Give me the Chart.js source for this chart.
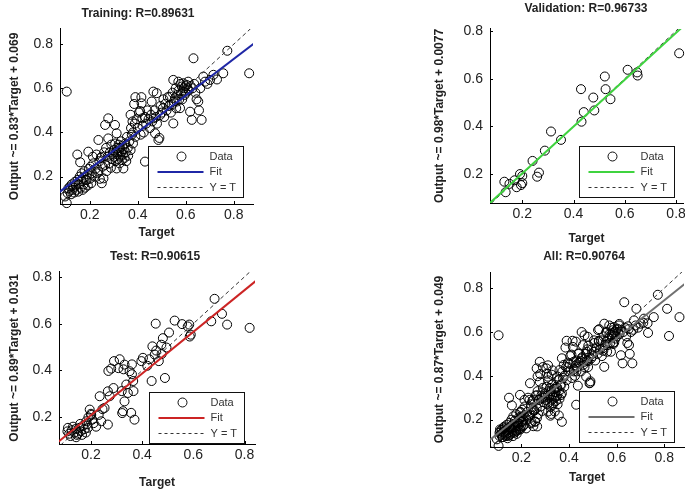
<!DOCTYPE html>
<html>
<head>
<meta charset="utf-8">
<script src="https://cdn.jsdelivr.net/npm/chart.js@4/dist/chart.umd.min.js"></script>
<style>
  html, body { margin: 0; padding: 0; background: #fff; width: 685px; height: 494px; overflow: hidden; }
  .panel { position: absolute; }
</style>
</head>
<body>
<div class="panel" style="left:0;top:0"><canvas id="c0" width="276" height="247"></canvas></div>
<div class="panel" style="left:400px;top:0"><canvas id="c1" width="372" height="247"></canvas></div>
<div class="panel" style="left:0;top:247px"><canvas id="c2" width="310" height="247"></canvas></div>
<div class="panel" style="left:400px;top:247px"><canvas id="c3" width="368" height="247"></canvas></div>
<script>
// ---- data ----
const tickVals = [0.2, 0.4, 0.6, 0.8];
const panelNames = ["Training", "Validation", "Test", "All"];
const rValues = ["0.89631", "0.96733", "0.90615", "0.90764"];
const fitSlope = ["0.83", "0.98", "0.89", "0.87"];
const fitIntercept = ["0.069", "0.0077", "0.031", "0.049"];
const legendLabels = ["Data", "Fit", "Y = T"];

// [target, output]
const trainPts = [
  [0.104,0.08],[0.104,0.585],[0.097,0.11],[0.108,0.125],[0.111,0.147],[0.115,0.135],[0.118,0.155],[0.122,0.12],
  [0.125,0.165],[0.128,0.14],[0.132,0.15],[0.135,0.128],[0.139,0.177],[0.142,0.16],[0.145,0.14],[0.148,0.3],
  [0.15,0.185],[0.152,0.132],[0.155,0.165],[0.158,0.2],[0.16,0.265],[0.162,0.15],[0.165,0.18],[0.166,0.215],
  [0.17,0.14],[0.172,0.195],[0.175,0.165],[0.178,0.225],[0.18,0.15],[0.183,0.185],[0.187,0.184],[0.19,0.21],
  [0.192,0.16],[0.194,0.313],[0.196,0.235],[0.2,0.19],[0.203,0.245],[0.206,0.17],[0.209,0.215],[0.213,0.29],
  [0.215,0.26],[0.22,0.2],[0.224,0.235],[0.228,0.3],[0.232,0.215],[0.236,0.366],[0.236,0.222],[0.24,0.27],
  [0.242,0.19],[0.246,0.285],[0.25,0.17],[0.25,0.29],[0.253,0.245],[0.257,0.192],[0.26,0.31],[0.264,0.253],
  [0.264,0.434],[0.268,0.33],[0.27,0.225],[0.274,0.29],[0.277,0.464],[0.277,0.373],[0.28,0.26],[0.284,0.31],
  [0.288,0.24],[0.29,0.345],[0.293,0.28],[0.297,0.3],[0.3,0.32],[0.302,0.29],[0.305,0.434],[0.306,0.35],
  [0.308,0.27],[0.31,0.31],[0.312,0.396],[0.312,0.237],[0.314,0.33],[0.316,0.3],[0.318,0.28],[0.32,0.345],
  [0.322,0.315],[0.324,0.26],[0.326,0.33],[0.328,0.29],[0.33,0.36],[0.332,0.31],[0.334,0.275],[0.336,0.34],
  [0.338,0.3],[0.34,0.237],[0.342,0.325],[0.345,0.285],[0.348,0.35],[0.35,0.31],[0.352,0.27],[0.355,0.38],
  [0.358,0.33],[0.36,0.295],[0.365,0.36],[0.37,0.32],[0.375,0.39],[0.38,0.35],[0.37,0.48],[0.372,0.42],
  [0.378,0.45],[0.38,0.4],[0.385,0.529],[0.388,0.44],[0.39,0.56],[0.39,0.38],[0.395,0.46],[0.4,0.42],
  [0.405,0.49],[0.41,0.497],[0.412,0.39],[0.415,0.56],[0.416,0.532],[0.419,0.464],[0.42,0.43],[0.425,0.4],
  [0.43,0.268],[0.43,0.47],[0.435,0.44],[0.44,0.5],[0.445,0.46],[0.45,0.42],[0.455,0.48],[0.458,0.54],
  [0.46,0.45],[0.465,0.585],[0.465,0.464],[0.47,0.5],[0.472,0.396],[0.475,0.47],[0.479,0.578],[0.48,0.44],
  [0.486,0.366],[0.49,0.375],[0.493,0.479],[0.495,0.52],[0.5,0.49],[0.505,0.51],[0.507,0.55],[0.51,0.47],
  [0.515,0.53],[0.52,0.5],[0.525,0.56],[0.53,0.52],[0.534,0.562],[0.538,0.49],[0.541,0.525],[0.545,0.58],
  [0.548,0.441],[0.548,0.638],[0.55,0.54],[0.555,0.555],[0.558,0.6],[0.56,0.51],[0.562,0.54],[0.565,0.57],
  [0.569,0.63],[0.57,0.59],[0.573,0.55],[0.576,0.51],[0.578,0.62],[0.58,0.575],[0.583,0.608],[0.585,0.55],
  [0.588,0.59],[0.59,0.623],[0.592,0.6],[0.595,0.57],[0.598,0.61],[0.6,0.58],[0.604,0.615],[0.607,0.6],
  [0.61,0.63],[0.612,0.59],[0.618,0.494],[0.62,0.61],[0.625,0.457],[0.628,0.6],[0.632,0.736],[0.635,0.62],
  [0.64,0.58],[0.645,0.55],[0.652,0.54],[0.655,0.5],[0.666,0.457],[0.66,0.6],[0.673,0.653],[0.68,0.63],
  [0.69,0.62],[0.701,0.638],[0.715,0.661],[0.73,0.64],[0.756,0.668],[0.773,0.77],[0.864,0.668]
];

const valPts = [
  [0.812,0.706],[0.611,0.637],[0.648,0.626],[0.65,0.613],[0.522,0.609],[0.429,0.556],[0.525,0.556],
  [0.477,0.521],[0.544,0.514],[0.44,0.46],[0.481,0.467],[0.431,0.42],[0.312,0.379],[0.351,0.344],
  [0.288,0.299],[0.24,0.256],[0.265,0.207],[0.258,0.19],[0.191,0.201],[0.2,0.193],[0.13,0.169],
  [0.178,0.146],[0.2,0.163],[0.135,0.125],[0.15,0.16],[0.17,0.175],[0.195,0.155]
];

const testPts = [
  [0.683,0.706],[0.712,0.642],[0.732,0.596],[0.67,0.61],[0.82,0.582],[0.584,0.596],[0.578,0.588],
  [0.59,0.553],[0.586,0.545],[0.556,0.598],[0.527,0.613],[0.453,0.6],[0.505,0.562],[0.481,0.538],
  [0.475,0.51],[0.495,0.498],[0.44,0.503],[0.455,0.485],[0.449,0.468],[0.476,0.47],[0.465,0.44],
  [0.428,0.448],[0.42,0.42],[0.397,0.44],[0.403,0.454],[0.489,0.368],[0.437,0.355],[0.312,0.448],
  [0.331,0.425],[0.29,0.44],[0.307,0.41],[0.279,0.408],[0.268,0.398],[0.327,0.405],[0.36,0.426],
  [0.351,0.397],[0.36,0.384],[0.365,0.355],[0.366,0.312],[0.32,0.312],[0.288,0.325],[0.266,0.311],
  [0.273,0.29],[0.234,0.29],[0.338,0.34],[0.344,0.304],[0.331,0.268],[0.325,0.226],[0.322,0.218],
  [0.357,0.219],[0.37,0.19],[0.253,0.24],[0.195,0.233],[0.201,0.21],[0.182,0.183],[0.24,0.183],
  [0.266,0.169],[0.22,0.16],[0.13,0.16],[0.14,0.15],[0.15,0.13],[0.12,0.12],[0.135,0.135],[0.155,0.155],
  [0.16,0.14],[0.17,0.165],[0.145,0.125],[0.125,0.145],[0.165,0.125],[0.175,0.15],[0.185,0.17],
  [0.19,0.2],[0.2,0.215],[0.11,0.155],[0.115,0.13],[0.18,0.135],[0.205,0.19],[0.108,0.14],[0.142,0.115],
  [0.158,0.172],[0.188,0.155],[0.21,0.175],[0.23,0.21],[0.245,0.235]
];

const allPts = trainPts.concat(valPts, testPts);

// ---- drawing ----
const FONT = '"Liberation Sans", Arial, Helvetica, sans-serif';
const INK = "#222";

// MATLAB-style tick marks pointing into the axes
const inwardTicks = {
  id: "inwardTicks",
  afterDatasetsDraw(chart) {
    const { ctx, chartArea: a, scales: { x, y } } = chart;
    ctx.save();
    ctx.strokeStyle = "#000";
    ctx.lineWidth = 1;
    ctx.beginPath();
    x.ticks.forEach((t) => {
      const px = Math.round(x.getPixelForValue(t.value)) + 0.5;
      ctx.moveTo(px, a.bottom);
      ctx.lineTo(px, a.bottom - 3);
    });
    y.ticks.forEach((t) => {
      const py = Math.round(y.getPixelForValue(t.value)) + 0.5;
      ctx.moveTo(a.left, py);
      ctx.lineTo(a.left + 3, py);
    });
    ctx.stroke();
    ctx.restore();
  },
};

// boxed legend sitting in the lower right of the axes
const boxLegend = {
  id: "boxLegend",
  afterDraw(chart, args, o) {
    const { ctx, chartArea: a } = chart;
    const w = 95, h = 51;
    const x0 = Math.round(a.right - o.right - w) + 0.5;
    const y0 = Math.round(a.bottom - o.bottom - h) + 0.5;
    const rows = [y0 + 10, y0 + 25.5, y0 + 41];
    ctx.save();
    ctx.fillStyle = "#fff";
    ctx.fillRect(x0, y0, w, h);
    ctx.strokeStyle = "#111";
    ctx.lineWidth = 1;
    ctx.strokeRect(x0, y0, w, h);

    ctx.beginPath();
    ctx.arc(x0 + 33, rows[0], 4.5, 0, Math.PI * 2);
    ctx.stroke();

    ctx.strokeStyle = o.color;
    ctx.lineWidth = 2;
    ctx.beginPath();
    ctx.moveTo(x0 + 9, rows[1]);
    ctx.lineTo(x0 + 55, rows[1]);
    ctx.stroke();

    ctx.strokeStyle = "#333";
    ctx.lineWidth = 1;
    ctx.setLineDash([3, 3]);
    ctx.beginPath();
    ctx.moveTo(x0 + 9, rows[2]);
    ctx.lineTo(x0 + 55, rows[2]);
    ctx.stroke();
    ctx.setLineDash([]);

    ctx.fillStyle = "#333";
    ctx.font = "11px " + FONT;
    ctx.textBaseline = "middle";
    legendLabels.forEach((t, i) => ctx.fillText(t, x0 + 61, rows[i]));
    ctx.restore();
  },
};

const panels = [
  { id: "c0", pts: trainPts, color: "#1f27a6", xlim: [0.076, 0.88], ylim: [0.076, 0.869],
    yW: 60, rW: 23, xH: 43, tPad: { top: 6, bottom: 8.5 }, xtPad: 6.8, ytPad: 7.8, lg: { right: 10, bottom: 7 } },
  { id: "c1", pts: valPts, color: "#3fd33f", xlim: [0.074, 0.827], ylim: [0.08, 0.808],
    yW: 90, rW: 89, xH: 44, tPad: { top: 1.5, bottom: 13 }, xtPad: 0.8, ytPad: 32.8, lg: { right: 9, bottom: 6 } },
  { id: "c2", pts: testPts, color: "#cc2424", xlim: [0.075, 0.841], ylim: [0.086, 0.821],
    yW: 59, rW: 55, xH: 50, tPad: { top: 2.5, bottom: 8 }, xtPad: 4.3, ytPad: 7.8, lg: { right: 11, bottom: 1 } },
  { id: "c3", pts: allPts, color: "#707070", xlim: [0.068, 0.883], ylim: [0.075, 0.874],
    yW: 90, rW: 84, xH: 47, tPad: { top: 2.8, bottom: 7.8 }, xtPad: 9.3, ytPad: 32.8, lg: { right: 10, bottom: 5 } },
];

function setTicks(scale) {
  scale.ticks = tickVals.filter((v) => v >= scale.min && v <= scale.max).map((v) => ({ value: v }));
}

panels.forEach((p, i) => {
  const a = Number(fitSlope[i]);
  const b = Number(fitIntercept[i]);
  new Chart(document.getElementById(p.id), {
    type: "scatter",
    data: {
      datasets: [
        {
          label: legendLabels[0],
          data: p.pts.map(([x, y]) => ({ x, y })),
          pointStyle: "circle",
          pointRadius: 4.5,
          pointBorderWidth: 1,
          borderColor: "#000",
          backgroundColor: "rgba(0,0,0,0)",
          clip: false,
          order: 3,
        },
        {
          type: "line",
          label: legendLabels[2],
          data: [{ x: 0, y: 0 }, { x: 1, y: 1 }],
          borderColor: "#333",
          borderWidth: 1,
          borderDash: [4, 3],
          pointRadius: 0,
          fill: false,
          order: 2,
        },
        {
          type: "line",
          label: legendLabels[1],
          data: [{ x: 0, y: b }, { x: 1, y: a + b }],
          borderColor: p.color,
          borderWidth: 2,
          pointRadius: 0,
          fill: false,
          order: 1,
        },
      ],
    },
    options: {
      responsive: false,
      animation: false,
      layout: { padding: 0 },
      plugins: {
        legend: { display: false },
        tooltip: { enabled: false },
        title: {
          display: true,
          text: `${panelNames[i]}: R=${rValues[i]}`,
          color: INK,
          font: { family: FONT, size: 12, weight: "bold" },
          padding: p.tPad,
        },
        boxLegend: { color: p.color, right: p.lg.right, bottom: p.lg.bottom },
      },
      scales: {
        x: {
          type: "linear",
          min: p.xlim[0],
          max: p.xlim[1],
          afterBuildTicks: setTicks,
          afterFit: (s) => { s.height = p.xH; },
          grid: { display: false, drawTicks: false },
          border: { display: true, color: "#000", width: 1 },
          ticks: { color: INK, font: { family: FONT, size: 14 }, padding: 3, maxRotation: 0, autoSkip: false,
                   callback: (v) => Number(v).toFixed(1) },
          title: { display: true, text: "Target", color: INK, font: { family: FONT, size: 12, weight: "bold" },
                   padding: { top: 0, bottom: p.xtPad } },
        },
        y: {
          type: "linear",
          min: p.ylim[0],
          max: p.ylim[1],
          afterBuildTicks: setTicks,
          afterFit: (s) => { s.width = p.yW; },
          grid: { display: false, drawTicks: false },
          border: { display: true, color: "#000", width: 1 },
          ticks: { color: INK, font: { family: FONT, size: 14 }, padding: 7, autoSkip: false,
                   callback: (v) => Number(v).toFixed(1) },
          title: { display: true, text: `Output ~= ${fitSlope[i]}*Target + ${fitIntercept[i]}`, color: INK,
                   font: { family: FONT, size: 12, weight: "bold" }, padding: { top: p.ytPad, bottom: 0 } },
        },
        r: {
          type: "linear",
          position: "right",
          afterFit: (s) => { s.width = p.rW; },
          grid: { display: false },
          border: { display: false },
          ticks: { display: false },
        },
      },
    },
    plugins: [inwardTicks, boxLegend],
  });
});
</script>
</body>
</html>
